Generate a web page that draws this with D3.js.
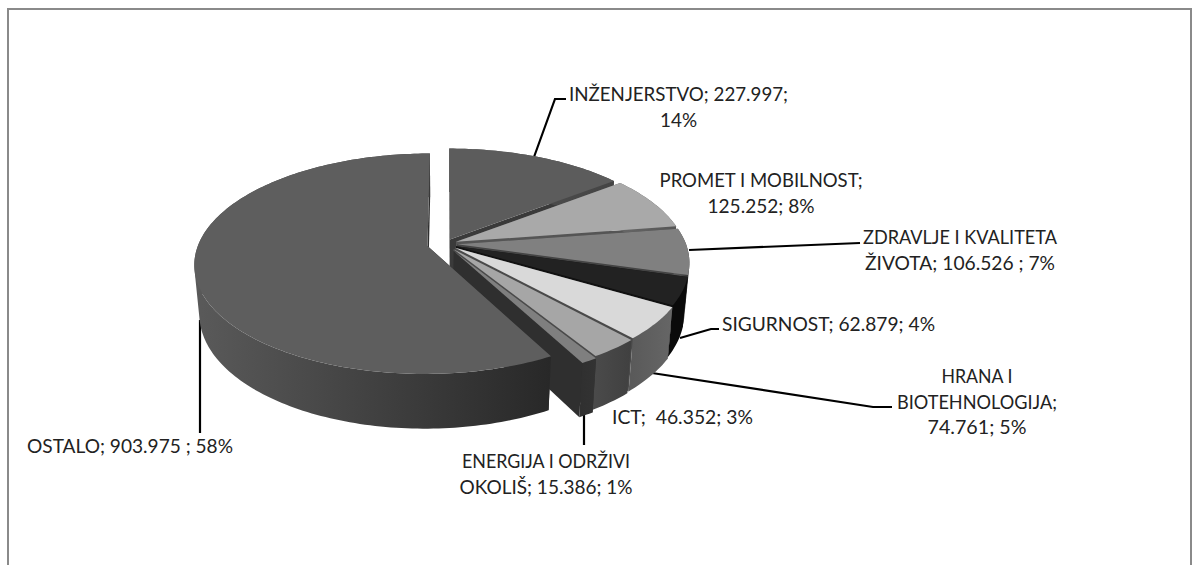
<!DOCTYPE html>
<html><head><meta charset="utf-8">
<script src="https://cdn.jsdelivr.net/npm/d3@7"></script>
<style>html,body{margin:0;padding:0;background:#fff}svg{display:block}
text{font-family:Lato,"Open Sans",sans-serif;font-size:19.3px;fill:#222;white-space:pre}</style>
</head><body><svg id="c" width="1200" height="565"></svg>
<script>
const categories = ["INŽENJERSTVO","PROMET I MOBILNOST","ZDRAVLJE I KVALITETA ŽIVOTA","SIGURNOST","HRANA I BIOTEHNOLOGIJA","ICT","ENERGIJA I ODRŽIVI OKOLIŠ","OSTALO"];
const values = [227997,125252,106526,62879,74761,46352,15386,903975];
const labelLines = [
  ["INŽENJERSTVO; 227.997;","14%"],
  ["PROMET I MOBILNOST;","125.252; 8%"],
  ["ZDRAVLJE I KVALITETA","ŽIVOTA; 106.526 ; 7%"],
  ["SIGURNOST; 62.879; 4%"],
  ["HRANA I","BIOTEHNOLOGIJA;","74.761; 5%"],
  ["ICT;  46.352; 3%"],
  ["ENERGIJA I ODRŽIVI","OKOLIŠ; 15.386; 1%"],
  ["OSTALO; 903.975 ; 58%"]
];
// styling, per slice
const topFill = ["#5c5c5c","#a9a9a9","#808080","#222222","#d9d9d9","#a6a6a6","#7f7f7f","#5e5e5e"];
const faceFill = ["#3a3a3a","#555555","#444444","#111111","#4a4a4a","#4a4a4a","#2f2f2f","#2f2f2f"];
const sideStops = [["#555","#444"],["#666","#555"],["#555","#333"],["#0a0a0a","#0a0a0a"],["#5a5a5a","#666666"],["#4a4a4a","#404040"],["#303030","#333333"],["#5a5a5a","#282828"]];
const explode = [11,12,12,12,13,14,17,18];
const labelPos = [[678.5,101],[761,187],[960,244],[828.5,331],[977,383],[682.5,424],[546,468],[130,453]];
const lineWidths = [[219,37],[203,107],[194,190],[213],[71,160,99],[141],[168,173],[206]];
const leaders = [
  [[534,157],[555,99],[566,99]],
  null,
  [[689,250],[860,243]],
  [[680,338],[711,329],[719,329]],
  [[652,373],[873,407],[892,407]],
  null,
  [[584,410],[584,445]],
  [[200,320],[200,433]]
];

const svg = d3.select("#c");
svg.append("rect").attr("x",8).attr("y",9).attr("width",1183).attr("height",570)
  .attr("fill","#fff").attr("stroke","#8a8a8a").attr("stroke-width",2);

const CX=445, CY=244, R=229, P=0.16/229, K=0.466, H=49.5, Q=0.02;
function project(u,v,z,o){
  const a=u+o[0], b=v+o[1], w=1-P*b+Q*z;
  return [CX+a/w, CY+(K*b+H*z)/w];
}
const pie = d3.pie().sort(null).value(d=>d);
const arcs = pie(values);
const line = d3.line();
const defs = svg.append("defs");
const pt=(t,r)=>[r*Math.sin(t),-r*Math.cos(t)];

function arcSamples(a0,a1){
  const n=Math.max(2,Math.ceil((a1-a0)/0.02));
  return d3.range(n+1).map(i=>a0+(a1-a0)*i/n);
}
// leaders sit behind the pie
leaders.forEach(l=>{ if(l) svg.append("path").attr("d",line(l)).attr("fill","none").attr("stroke","#000").attr("stroke-width",2.2); });
const g = svg.append("g");

arcs.forEach((d,i)=>{
  const mid=(d.startAngle+d.endAngle)/2, o=pt(mid,explode[i]);
  const s=g.append("g");
  const ts=arcSamples(d.startAngle,d.endAngle);
  const topRim=ts.map(t=>{const q=pt(t,R);return project(q[0],q[1],0,o);});
  const botRim=ts.map(t=>{const q=pt(t,R);return project(q[0],q[1],1,o);});
  const a0=project(0,0,0,o), a1=project(0,0,1,o);
  // cut faces
  [0,ts.length-1].forEach(k=>{
    s.append("path").attr("d",line([a0,topRim[k],botRim[k],a1])+"Z").attr("fill",faceFill[i]);
  });
  // outer wall: one path of same-winding quads, so the silhouette stays convex with no seams
  const id="w"+i;
  const xs=topRim.map(p=>p[0]);
  const gr=defs.append("linearGradient").attr("id",id).attr("gradientUnits","userSpaceOnUse")
    .attr("x1",d3.min(xs)).attr("x2",d3.max(xs)).attr("y1",0).attr("y2",0);
  gr.append("stop").attr("offset",0).attr("stop-color",sideStops[i][0]);
  gr.append("stop").attr("offset",1).attr("stop-color",sideStops[i][1]);
  const wall=d3.range(ts.length-1).map(k=>{
    const q=[topRim[k],topRim[k+1],botRim[k+1],botRim[k]];
    return line(d3.polygonArea(q)<0?q.slice().reverse():q)+"Z";
  }).join("");
  s.append("path").attr("d",wall).attr("fill","url(#"+id+")").attr("fill-rule","nonzero");
  // top
  s.append("path").attr("d",line([a0].concat(topRim))+"Z").attr("fill",topFill[i]);
});

labelLines.forEach((ls,i)=>{
  ls.forEach((l,j)=>svg.append("text").attr("text-anchor","middle")
    .attr("x",labelPos[i][0]).attr("y",labelPos[i][1]+j*25.7)
    .attr("textLength",lineWidths[i][j]).attr("lengthAdjust","spacingAndGlyphs").text(l));
});
</script></body></html>
